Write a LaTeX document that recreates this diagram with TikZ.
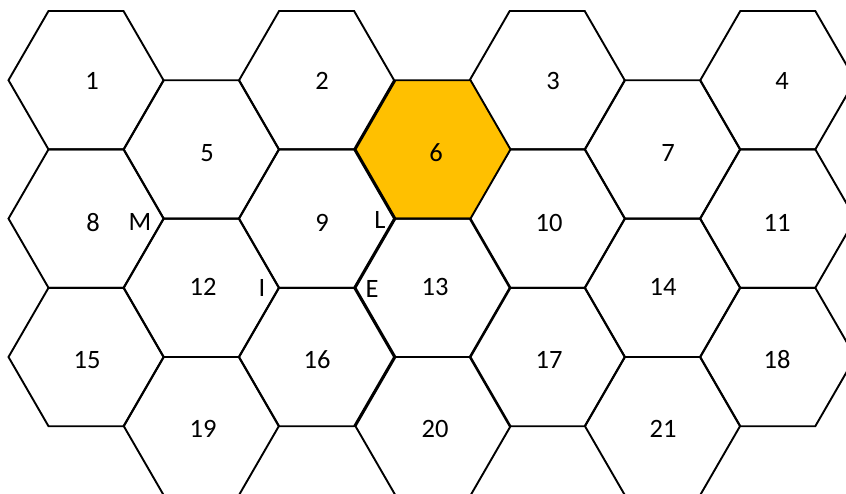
\documentclass[tikz,border=0pt]{standalone}
\usepackage{fontspec}
\setmainfont{Carlito}
\definecolor{gold}{RGB}{255,192,0}
\tikzset{
  hexline/.style={draw=black,line width=1.9pt,line join=miter},
  lab/.style={inner sep=0pt,font=\fontsize{26.5}{30}\selectfont},
  hexcell/.pic={\path[hexline,#1] (-77.5,0) -- (-37.5,-69.2) -- (37.5,-69.2) -- (77.5,0) -- (37.5,69.2) -- (-37.5,69.2) -- cycle;},
  hexcell/.default={}
}
\begin{document}
\begin{tikzpicture}[x=1pt,y=-1pt]
\useasboundingbox (0,0) rectangle (846,493);
\clip (0,0) rectangle (846,493);
% even columns
\foreach \cx in {86,316.6,547.2,777.8}{
  \foreach \cy in {80.2,218.6,357}{
    \pic at (\cx,\cy) {hexcell};
  }
}
% odd columns
\foreach \cx in {201.3,662.5}{
  \foreach \cy in {149.4,287.8,426.2}{
    \pic at (\cx,\cy) {hexcell};
  }
}
\pic at (433,149.4) {hexcell={fill=gold}};
\pic at (433,287.8) {hexcell};
\pic at (433,426.2) {hexcell};
% labels
\node[lab] (n1) at (92,81) {1};
\node[lab] (n2) at (322,81) {2};
\node[lab] (n3) at (553,81) {3};
\node[lab] (n4) at (782,81) {4};
\node[lab] (n5) at (207,153) {5};
\node[lab] (n6) at (436,153) {6};
\node[lab] (n7) at (668,153) {7};
\node[lab] (n8) at (93,223) {8};
\node[lab] (nM) at (140,222) {M};
\node[lab] (n9) at (322,223) {9};
\node[lab] (nL) at (380,220) {L};
\node[lab] (n10) at (549,223) {10};
\node[lab] (n11) at (777,223) {11};
\node[lab] (n12) at (203,287) {12};
\node[lab] (nI) at (262,288) {I};
\node[lab] (nE) at (372,289) {E};
\node[lab] (n13) at (435,287) {13};
\node[lab] (n14) at (663,287) {14};
\node[lab] (n15) at (87,360) {15};
\node[lab] (n16) at (317,360) {16};
\node[lab] (n17) at (549,360) {17};
\node[lab] (n18) at (777,360) {18};
\node[lab] (n19) at (203,429) {19};
\node[lab] (n20) at (435,429) {20};
\node[lab] (n21) at (663,429) {21};
\end{tikzpicture}
\end{document}
